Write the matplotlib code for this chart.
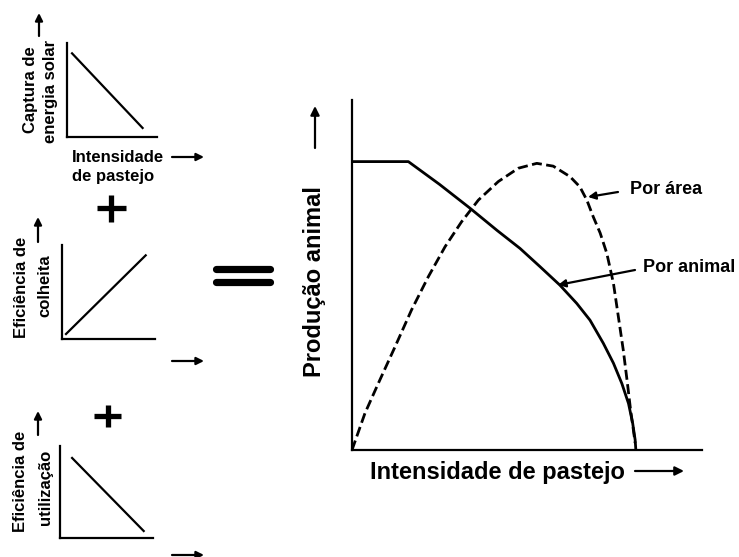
import matplotlib
matplotlib.use("Agg")
import matplotlib.pyplot as plt

plt.rcParams['font.family'] = ['Liberation Sans', 'DejaVu Sans']

# ---- data ----
energia_x = [5.6, 84.0]
energia_y = [89.0, 9.6]
colheita_x = [4.3, 90.0]
colheita_y = [5.3, 89.0]
utilizacao_x = [13.0, 90.0]
utilizacao_y = [87.0, 7.6]

animal_x = [0, 16.1, 25.0, 33.7, 41.5, 48.0, 53.7, 59.4, 64.2, 68.0, 71.8,
            74.7, 77.1, 79.0, 80.2, 80.9, 81.1]
animal_y = [82.4, 82.4, 75.9, 69.1, 62.7, 57.6, 52.4, 47.1, 41.9, 37.1, 30.5,
            24.8, 19.0, 13.3, 7.6, 2.9, 0.0]

area_x = [0, 3.7, 7.5, 12.3, 17.0, 21.8, 26.6, 31.3, 36.1, 41.8, 47.5, 52.8,
          57.5, 62.3, 65.1, 67.1, 68.9, 70.9, 72.8, 74.7, 76.1, 77.5, 78.7,
          79.6, 80.4, 80.9]
area_y = [0, 10.5, 19.0, 29.5, 40.0, 49.5, 58.1, 65.2, 71.4, 76.7, 80.5, 81.9,
          81.1, 78.1, 75.2, 71.4, 66.7, 62.0, 56.2, 47.6, 38.1, 28.6, 19.0,
          11.4, 5.7, 2.0]

lbl_area = "Por área"
lbl_animal = "Por animal"
ylabel_main = "Produção animal"
xlabel_main = "Intensidade de pastejo"

W, H = 739, 557
fig = plt.figure(figsize=(W / 100, H / 100), dpi=100)


def px_axes(x0, y0, x1, y1):
    return fig.add_axes([x0 / W, (H - y1) / H, (x1 - x0) / W, (y1 - y0) / H])


def style_small(ax):
    for s in ['top', 'right']:
        ax.spines[s].set_visible(False)
    for s in ['left', 'bottom']:
        ax.spines[s].set_linewidth(1.6)
    ax.set_xticks([])
    ax.set_yticks([])
    ax.set_xlim(0, 100)
    ax.set_ylim(0, 100)
    ax.patch.set_alpha(0)


# small panels
a1 = px_axes(67, 43, 157, 137)
style_small(a1)
a1.plot(energia_x, energia_y, color='black', lw=1.6)

a2 = px_axes(62, 245, 155, 339)
style_small(a2)
a2.plot(colheita_x, colheita_y, color='black', lw=1.6)

a3 = px_axes(60, 446, 153, 538)
style_small(a3)
a3.plot(utilizacao_x, utilizacao_y, color='black', lw=1.6)

# main panel
am = px_axes(352, 100, 702, 450)
for s in ['top', 'right']:
    am.spines[s].set_visible(False)
for s in ['left', 'bottom']:
    am.spines[s].set_linewidth(1.6)
am.set_xticks([])
am.set_yticks([])
am.set_xlim(0, 100)
am.set_ylim(0, 100)
am.patch.set_alpha(0)
am.plot(animal_x, animal_y, color='black', lw=2.0, solid_joinstyle='round')
am.plot(area_x, area_y, color='black', lw=2.0, linestyle=(0, (3.6, 1.6)),
        dash_joinstyle='round')

# overlay for text and decorations (pixel coords)
ov = fig.add_axes([0, 0, 1, 1], zorder=-1)
ov.set_xlim(0, W)
ov.set_ylim(H, 0)
ov.axis('off')

arrow_kw = dict(arrowstyle='-|>', color='black', lw=1.6, mutation_scale=11,
                shrinkA=0, shrinkB=0)


def arrow(x0, y0, x1, y1, **kw):
    d = dict(arrow_kw)
    d.update(kw)
    ov.annotate('', xy=(x1, y1), xytext=(x0, y0), arrowprops=d)


small_fs = 12
bold = 'bold'

# panel 1 labels
ov.text(30, 90, "Captura de", rotation=90, ha='center', va='center',
        fontsize=small_fs, fontweight=bold)
ov.text(51, 91, "energia solar", rotation=90, ha='center', va='center',
        fontsize=small_fs, fontweight=bold)
arrow(39, 36, 39, 13)
ov.text(72, 157, "Intensidade", ha='left', va='center', fontsize=small_fs, fontweight=bold)
ov.text(72, 177, "de pastejo", ha='left', va='center', fontsize=small_fs, fontweight=bold)
arrow(172, 157, 204, 157)

# plus signs
ov.plot([97, 126], [208, 208], color='black', lw=3.8, solid_capstyle='butt')
ov.plot([111, 111], [195, 222], color='black', lw=3.8, solid_capstyle='butt')
ov.plot([94, 121], [416, 416], color='black', lw=3.8, solid_capstyle='butt')
ov.plot([108, 108], [405, 427], color='black', lw=3.8, solid_capstyle='butt')

# panel 2 labels
ov.text(22, 287, "Eficiência de", rotation=90, ha='center', va='center',
        fontsize=small_fs, fontweight=bold)
ov.text(45, 286, "colheita", rotation=90, ha='center', va='center',
        fontsize=small_fs, fontweight=bold)
arrow(38, 242, 38, 217)
arrow(172, 361, 204, 361)

# panel 3 labels
ov.text(21, 481, "Eficiência de", rotation=90, ha='center', va='center',
        fontsize=small_fs, fontweight=bold)
ov.text(45, 487, "utilização", rotation=90, ha='center', va='center',
        fontsize=small_fs, fontweight=bold)
arrow(38, 435, 38, 411)
arrow(172, 555, 204, 555)

# equals sign
ov.plot([216, 270], [269, 269], color='black', lw=5.2, solid_capstyle='round')
ov.plot([216, 270], [282, 282], color='black', lw=5.2, solid_capstyle='round')

# main labels
ov.text(315, 282, ylabel_main, rotation=90, ha='center', va='center',
        fontsize=17, fontweight=bold)
arrow(315, 148, 315, 106, mutation_scale=13)
ov.text(370, 472, xlabel_main, ha='left', va='center', fontsize=17, fontweight=bold)
arrow(635, 471, 684, 471, mutation_scale=13)

# curve annotations
ov.text(630, 190, lbl_area, ha='left', va='center', fontsize=13, fontweight=bold)
arrow(618, 192, 588, 197)
ov.text(643, 267, lbl_animal, ha='left', va='center', fontsize=13, fontweight=bold)
arrow(635, 270, 558, 285)

fig.savefig("out.png", dpi=100, facecolor='white')
